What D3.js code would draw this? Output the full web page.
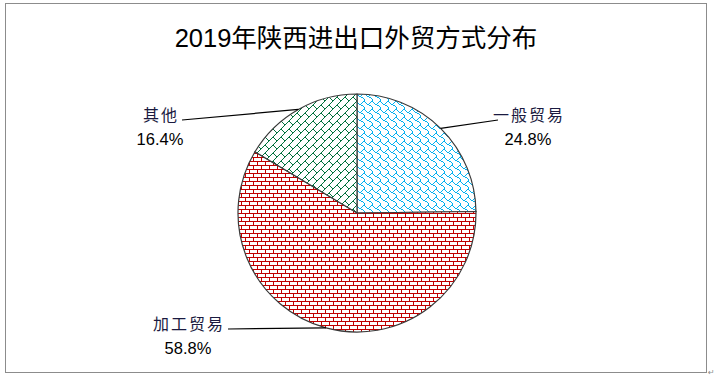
<!DOCTYPE html>
<html><head><meta charset="utf-8">
<script src="https://cdn.jsdelivr.net/npm/d3@7"></script>
<style>html,body{margin:0;padding:0;background:#fff;}</style>
</head><body>
<svg id="c" width="717" height="381"></svg>
<script>
const categories = ["一般贸易", "加工贸易", "其他"];
const shares = [24.8, 58.8, 16.4];
const percentLabels = ["24.8%", "58.8%", "16.4%"];
const title = "2019年陕西进出口外贸方式分布";

const svg = d3.select("#c");
const defs = svg.append("defs");

// 8x8 bitmap patterns (rows, MSB = leftmost pixel)
const patternBits = {
  shingle: [0x03,0x84,0x48,0x30,0x0c,0x02,0x01,0x01],
  brick:   [0xff,0x80,0x80,0x80,0xff,0x08,0x08,0x08],
  dbrick:  [0x01,0x02,0x04,0x08,0x18,0x24,0x42,0x81]
};
const patternColors = {shingle:"#00b0f0", brick:"#c00000", dbrick:"#00703c"};
const sliceKeys = ["shingle", "brick", "dbrick"];

Object.keys(patternBits).forEach(k => {
  const p = defs.append("pattern").attr("id", "p-" + k)
    .attr("patternUnits", "userSpaceOnUse").attr("width", 8).attr("height", 8);
  p.append("rect").attr("width", 8).attr("height", 8).attr("fill", "#fff");
  patternBits[k].forEach((row, y) => {
    for (let x = 0; x < 8; x++) {
      if (row & (0x80 >> x)) {
        p.append("rect").attr("x", x).attr("y", y).attr("width", 1).attr("height", 1)
          .attr("fill", patternColors[k]).attr("shape-rendering", "crispEdges");
      }
    }
  });
});

// frame
svg.append("rect").attr("x", 5.5).attr("y", 3.5).attr("width", 701).attr("height", 369)
  .attr("fill", "none").attr("stroke", "#8c8c8c").attr("stroke-width", 1);
svg.append("text").attr("x", 708).attr("y", 375).attr("font-size", 8).attr("fill", "#8c8c8c")
  .attr("font-family", "DejaVu Sans").text("↵");

// title
svg.append("text").attr("x", 356).attr("y", 47).attr("text-anchor", "middle")
  .attr("font-family", "'Liberation Sans', 'Noto Sans CJK SC', sans-serif")
  .attr("font-size", 25.5).attr("fill", "#000").text(title);

const cx = 357, cy = 213, r = 119;
const pie = d3.pie().sort(null).value(d => d)(shares);
const arc = d3.arc().innerRadius(0).outerRadius(r);
const g = svg.append("g").attr("transform", `translate(${cx},${cy})`);

g.selectAll("path.slice").data(pie).enter().append("path").attr("class", "slice")
  .attr("d", arc)
  .attr("fill", (d, i) => `url(#p-${sliceKeys[i]})`)
  .attr("stroke", "#3a3a3a").attr("stroke-width", 1.2);

// labels
const labelPos = [
  {lx: 528, ly: 120, lineEnd: [498, 120]},
  {lx: 188, ly: 329, lineEnd: [228, 329]},
  {lx: 160, ly: 120, lineEnd: [182, 120]}
];
pie.forEach((d, i) => {
  const a = (d.startAngle + d.endAngle) / 2;
  const px = cx + r * Math.sin(a), py = cy - r * Math.cos(a);
  const L = labelPos[i];
  svg.append("line").attr("x1", px).attr("y1", py)
    .attr("x2", L.lineEnd[0]).attr("y2", L.lineEnd[1])
    .attr("stroke", "#000").attr("stroke-width", 1.2);
  svg.append("text").attr("x", L.lx + 1).attr("y", L.ly + 1)
    .attr("text-anchor", "middle")
    .attr("font-family", "'Noto Sans CJK SC', sans-serif")
    .attr("font-size", 16).attr("letter-spacing", 2).attr("fill", "#1a1a40")
    .text(categories[i]);
  svg.append("text").attr("x", L.lx).attr("y", L.ly + 25)
    .attr("text-anchor", "middle")
    .attr("font-family", "'Liberation Sans', sans-serif")
    .attr("font-size", 16.5).attr("fill", "#000")
    .text(percentLabels[i]);
});
</script>
</body></html>
